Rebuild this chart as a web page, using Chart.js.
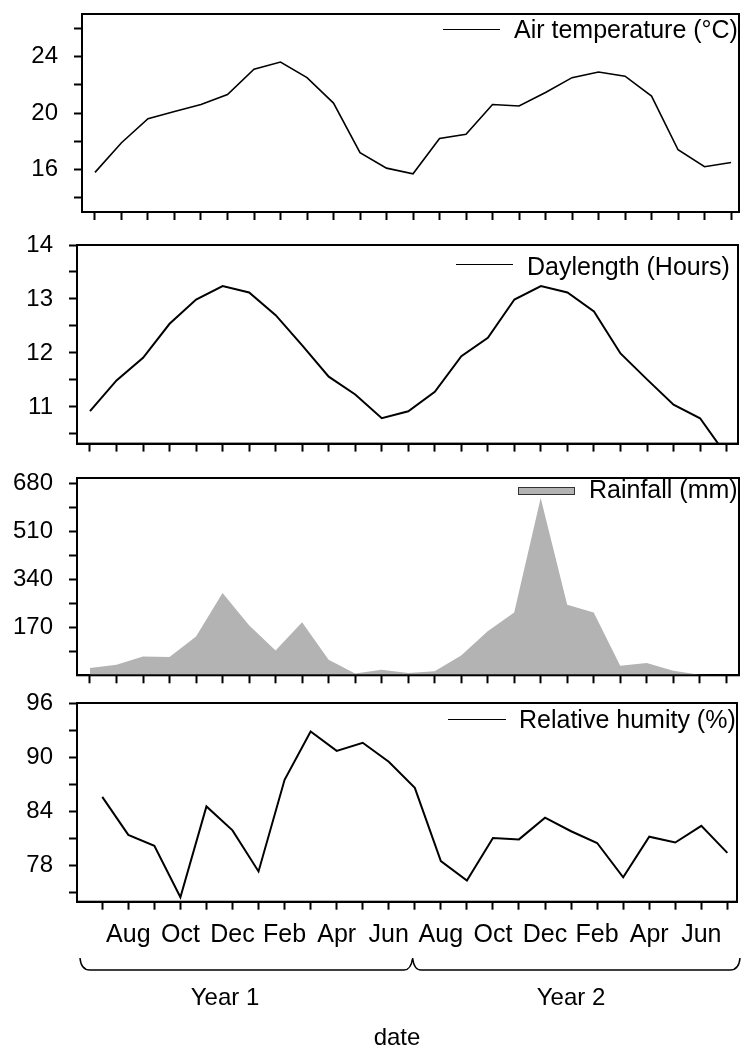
<!DOCTYPE html>
<html><head><meta charset="utf-8">
<script src="https://cdn.jsdelivr.net/npm/chart.js@4"></script>
<style>
html,body{margin:0;padding:0;background:#fff;}
body{width:741px;height:1046px;position:relative;overflow:hidden;font-family:"Liberation Sans",Arial,sans-serif;color:#000;}
canvas{position:absolute;left:0;}
.lg{position:absolute;font-size:25px;line-height:1;white-space:nowrap;}
.ln{position:absolute;height:0;border-top:1.6px solid #000;}
.box{position:absolute;background:#b3b3b3;border:1px solid #333;box-sizing:border-box;}
.txt{position:absolute;font-size:24px;line-height:1;white-space:nowrap;transform:translateX(-50%);}
svg{position:absolute;left:0;top:0;pointer-events:none;}
</style></head><body>
<canvas id="c1"></canvas>
<canvas id="c2"></canvas>
<canvas id="c3"></canvas>
<canvas id="c4"></canvas>
<div id="legends"></div>
<svg width="741" height="1046"><path d="M80,958 Q81,970 90,970 L404,970 Q411,970 412.6,958 Q414,970 421,970 L730,970 Q739,970 740,958" fill="none" stroke="#000" stroke-width="1.5"/></svg>
<div class="txt" style="left:225px;top:985px">Year 1</div>
<div class="txt" style="left:571px;top:985px">Year 2</div>
<div class="txt" style="left:397px;top:1025px">date</div>
<script>
// ---- data ----
const monthLabels = ['', 'Aug', '', 'Oct', '', 'Dec', '', 'Feb', '', 'Apr', '', 'Jun', '', 'Aug', '', 'Oct', '', 'Dec', '', 'Feb', '', 'Apr', '', 'Jun', ''];
const airTemp = [15.8, 17.9, 19.6, 20.1, 20.6, 21.3, 23.1, 23.6, 22.5, 20.7, 17.2, 16.1, 15.7, 18.2, 18.5, 20.6, 20.5, 21.45, 22.5, 22.9, 22.6, 21.2, 17.4, 16.2, 16.5];
const daylength = [10.92, 11.49, 11.91, 12.54, 12.99, 13.24, 13.12, 12.70, 12.14, 11.56, 11.23, 10.79, 10.92, 11.28, 11.94, 12.28, 12.99, 13.24, 13.12, 12.77, 11.99, 11.51, 11.04, 10.79, 10.1];
const rainfall = [26, 37, 67, 65, 138, 292, 178, 88, 188, 55, 6, 20, 8, 14, 70, 156, 223, 629, 250, 223, 34, 44, 16, 2, 0];
const humidity = [85.6, 81.4, 80.2, 74.5, 84.55, 81.9, 77.35, 87.5, 92.85, 90.7, 91.6, 89.5, 86.6, 78.5, 76.35, 81.05, 80.9, 83.3, 81.8, 80.5, 76.7, 81.2, 80.55, 82.4, 79.4];
const tempTicks = [14, 16, 18, 20, 22, 24, 26], tempLabels = [16, 20, 24];
const dayTicks = [10.5, 11, 11.5, 12, 12.5, 13, 13.5, 14], dayLabels = [11, 12, 13, 14];
const rainTicks = [85, 170, 255, 340, 425, 510, 595, 680], rainLabels = [170, 340, 510, 680];
const rhTicks = [75, 78, 81, 84, 87, 90, 93, 96], rhLabels = [78, 84, 90, 96];

const FONT = '"Liberation Sans", Arial, sans-serif';
const xIdx = monthLabels.map((_, i) => i);
const pts = arr => arr.map((v, i) => ({x: i, y: v}));

const framePlugin = {id: 'frame', afterDraw(chart) {
  const {ctx, chartArea: a} = chart;
  ctx.save(); ctx.strokeStyle = '#000'; ctx.lineWidth = 2;
  ctx.strokeRect(a.left, a.top, a.right - a.left, a.bottom - a.top);
  ctx.restore();
}};

const PADT = 40;
function panel(s) {
  const cv = document.getElementById(s.id);
  const top = s.frameT - PADT;
  const h = (s.frameB - top) + s.xH;
  cv.width = 741; cv.height = Math.round(h); cv.style.top = top + 'px';
  const xH = cv.height - (s.frameB - top);
  const gridOpt = {drawOnChartArea: false, drawTicks: true, tickLength: 8, tickWidth: 2, tickColor: '#000'};
  const borderOpt = {display: true, width: 2, color: '#000'};
  new Chart(cv, {
    type: 'line',
    data: {datasets: [s.dataset]},
    options: {
      responsive: false, animation: false, devicePixelRatio: 1,
      layout: {padding: {top: PADT, right: 741 - s.frameR, left: 0, bottom: 0}},
      plugins: {legend: {display: false}, tooltip: {enabled: false}},
      scales: {
        x: {type: 'linear', min: s.xmin, max: s.xmax,
          afterBuildTicks: a => { a.ticks = xIdx.map(v => ({value: v})); },
          afterFit: a => { a.height = xH; },
          grid: gridOpt, border: borderOpt,
          ticks: {display: !!s.showX, autoSkip: false, maxRotation: 0, minRotation: 0, padding: 10, color: '#000',
            font: {family: FONT, size: 25}, callback: v => monthLabels[Math.round(v)] || ''}
        },
        y: {type: 'linear', min: s.ymin, max: s.ymax,
          afterBuildTicks: a => { a.ticks = s.yTicks.map(v => ({value: v})); },
          afterFit: a => { a.width = s.frameL; },
          grid: gridOpt, border: borderOpt,
          ticks: {autoSkip: false, padding: 16, color: '#000', font: {family: FONT, size: 24, lineHeight: 1},
            callback: v => s.yLabels.includes(v) ? String(v) : ''}
        }
      }
    },
    plugins: [framePlugin]
  });
}

const dsTemp = {label: 'Air temperature (°C)', data: pts(airTemp), borderColor: '#000', borderWidth: 1.6, pointRadius: 0, tension: 0, fill: false};
const dsDay = {label: 'Daylength (Hours)', data: pts(daylength), borderColor: '#000', borderWidth: 2, pointRadius: 0, tension: 0, fill: false};
const dsRain = {label: 'Rainfall (mm)', data: pts(rainfall), borderColor: 'rgba(0,0,0,0)', borderWidth: 0, backgroundColor: '#b3b3b3', pointRadius: 0, tension: 0, fill: 'origin'};
const dsRH = {label: 'Relative humity (%)', data: pts(humidity), borderColor: '#000', borderWidth: 2, pointRadius: 0, tension: 0, fill: false};

panel({id: 'c1', frameL: 82, frameT: 14, frameR: 739, frameB: 212, xH: 34, xmin: -0.49, xmax: 24.3, ymin: 13, ymax: 27, yTicks: tempTicks, yLabels: tempLabels, dataset: dsTemp});
panel({id: 'c2', frameL: 77, frameT: 244.7, frameR: 738, frameB: 443.3, xH: 34, xmin: -0.49, xmax: 24.43, ymin: 10.32, ymax: 14, yTicks: dayTicks, yLabels: dayLabels, dataset: dsDay});
panel({id: 'c3', frameL: 77, frameT: 478.3, frameR: 739, frameB: 675.6, xH: 34, xmin: -0.49, xmax: 24.48, ymin: 0, ymax: 700, yTicks: rainTicks, yLabels: rainLabels, dataset: dsRain});
panel({id: 'c4', frameL: 77, frameT: 703.3, frameR: 737, frameB: 902, xH: 72, xmin: -0.97, xmax: 24.37, ymin: 74, ymax: 96, yTicks: rhTicks, yLabels: rhLabels, dataset: dsRH, showX: true});

// legends (text from dataset labels)
const lg = document.getElementById('legends');
[[dsTemp, 442.7, 500, 29.3, 514, 17.1, 'line'], [dsDay, 455.7, 513.3, 264.3, 527, 253.8, 'line'],
 [dsRain, 517.7, 575, 490.5, 589, 476.5, 'box'], [dsRH, 447.7, 506, 720, 519, 707.1, 'line']].forEach(([ds, x0, x1, ym, tx, ty, kind]) => {
  const m = document.createElement('div');
  if (kind === 'line') { m.className = 'ln'; m.style.cssText = `left:${x0}px;width:${x1 - x0}px;top:${ym - 0.8}px`; }
  else { m.className = 'box'; m.style.cssText = `left:${x0}px;width:${x1 - x0}px;top:${ym - 4}px;height:8px`; }
  lg.appendChild(m);
  const t = document.createElement('div'); t.className = 'lg'; t.textContent = ds.label;
  t.style.left = tx + 'px'; t.style.top = ty + 'px'; lg.appendChild(t);
});
</script>
</body></html>
